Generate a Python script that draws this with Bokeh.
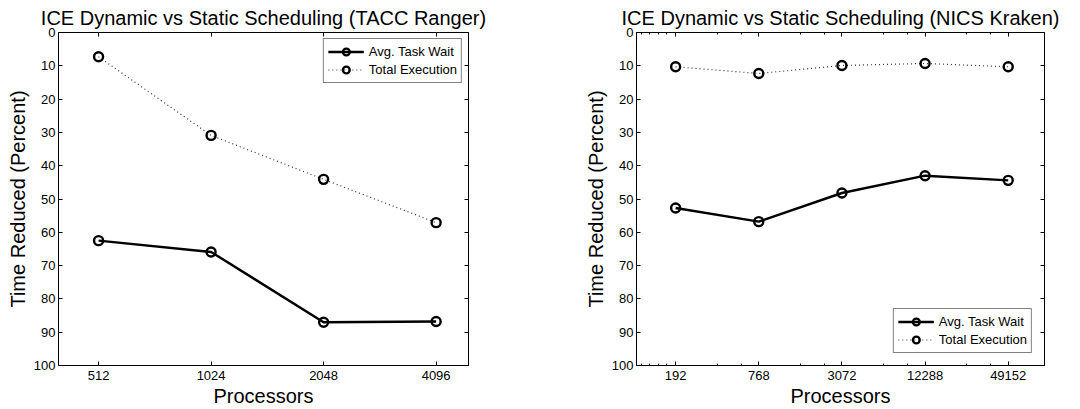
from bokeh.plotting import figure
from bokeh.layouts import row
from bokeh.models import (Range1d, FixedTicker, LogAxis, LinearAxis, Legend, LegendItem,
                          PrintfTickFormatter, CustomJSTickFormatter)
from bokeh.embed import file_html
from bokeh.resources import INLINE

# ---- data ----
tacc_procs = [512, 1024, 2048, 4096]
tacc_wait = [62.5, 65.9, 87.0, 86.8]
tacc_total = [7.3, 30.9, 44.1, 57.1]

nics_procs = [192, 768, 3072, 12288, 49152]
nics_wait = [52.7, 56.8, 48.2, 43.0, 44.4]
nics_total = [10.3, 12.3, 9.9, 9.3, 10.3]

y_ticks = [0, 10, 20, 30, 40, 50, 60, 70, 80, 90, 100]
nics_minor = [108, 125, 144, 166, 384, 576, 1536, 2304, 6144, 9216, 24576, 36864]

FONT = "Liberation Sans"
TITLE_TACC = "ICE Dynamic vs Static Scheduling (TACC Ranger)"
TITLE_NICS = "ICE Dynamic vs Static Scheduling (NICS Kraken)"


def style_axis(ax, show_labels=True):
    ax.axis_line_color = "black"
    ax.axis_line_width = 1
    ax.major_tick_in = 4
    ax.major_tick_out = 0
    ax.minor_tick_in = 2
    ax.minor_tick_out = 0
    ax.major_tick_line_color = "black"
    ax.minor_tick_line_color = "black"
    ax.major_label_text_font = FONT
    ax.major_label_text_color = "black"
    ax.axis_label_text_font = FONT
    ax.axis_label_text_font_style = "normal"
    ax.axis_label_text_font_size = "20px"
    ax.axis_label_text_color = "black"
    ax.major_label_text_font_size = "13px"
    if show_labels:
        ax.major_label_standoff = 3
        ax.axis_label_standoff = 2
    else:
        ax.formatter = CustomJSTickFormatter(code="return ''")
        ax.major_label_standoff = 0
        ax.axis_label_standoff = 0


def make_plot(title, procs, wait, total, xr, minor, legend_loc, legend_margin,
              width, bl, br):
    p = figure(width=width, height=409, x_axis_type="log",
               x_range=Range1d(*xr), y_range=Range1d(100, 0),
               output_backend="svg", toolbar_location=None,
               min_border_left=bl, min_border_right=br,
               min_border_top=32, min_border_bottom=44)
    p.title.text = title
    p.title.text_font = FONT
    p.title.text_font_size = "20px"
    p.title.text_font_style = "normal"
    p.title.text_color = "black"
    p.title.align = "center"
    p.title.standoff = 8
    p.title.offset = 0
    p.grid.visible = False
    p.outline_line_color = "black"
    p.outline_line_width = 1
    p.background_fill_color = "white"
    p.border_fill_color = "white"

    p.xaxis.ticker = FixedTicker(ticks=procs, minor_ticks=minor)
    p.xaxis.formatter = PrintfTickFormatter(format="%d")
    p.xaxis.axis_label = "Processors"
    p.yaxis.ticker = FixedTicker(ticks=y_ticks, minor_ticks=[])
    p.yaxis.axis_label = "Time Reduced (Percent)"
    style_axis(p.xaxis[0])
    style_axis(p.yaxis[0])
    p.xaxis[0].major_label_standoff = 5
    p.xaxis[0].axis_label_standoff = 2

    top = LogAxis(ticker=FixedTicker(ticks=procs, minor_ticks=minor))
    style_axis(top, show_labels=False)
    p.add_layout(top, "above")
    right = LinearAxis(ticker=FixedTicker(ticks=y_ticks, minor_ticks=[]))
    style_axis(right, show_labels=False)
    p.add_layout(right, "right")

    l1 = p.line(procs, wait, line_color="black", line_width=2.4)
    s1 = p.scatter(procs, wait, marker="circle", size=9, line_color="black",
                   line_width=2.4, fill_color=None)
    l2 = p.line(procs, total, line_color="#333333", line_width=1.2, line_dash="1 3")
    s2 = p.scatter(procs, total, marker="circle", size=9, line_color="black",
                   line_width=2.4, fill_color=None)

    legend = Legend(items=[LegendItem(label="Avg. Task Wait", renderers=[l1, s1]),
                           LegendItem(label="Total Execution", renderers=[l2, s2])],
                    location=legend_loc)
    legend.label_text_font = FONT
    legend.label_text_font_size = "13px"
    legend.label_text_color = "black"
    legend.border_line_color = "black"
    legend.border_line_width = 1
    legend.background_fill_alpha = 1
    legend.padding = 4
    legend.spacing = 1
    legend.glyph_width = 36
    legend.glyph_height = 17
    legend.label_height = 17
    legend.label_standoff = 5
    legend.margin = legend_margin
    p.add_layout(legend, "center")
    return p


p1 = make_plot(TITLE_TACC, tacc_procs, tacc_wait, tacc_total, (400, 5000), [],
               "top_right", 6, 540, 58, 72)
p2 = make_plot(TITLE_NICS, nics_procs, nics_wait, nics_total, (100, 90000), nics_minor,
               "bottom_right", 12, 540, 96, 36)

layout = row(p1, p2)
open("out.html", "w").write(file_html(layout, INLINE))
